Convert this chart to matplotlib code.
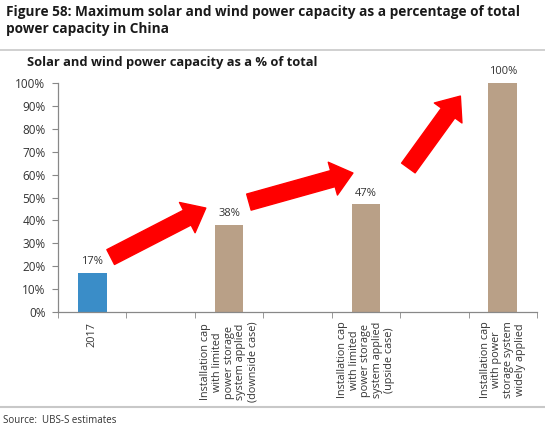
import matplotlib
matplotlib.use("Agg")
import matplotlib.pyplot as plt
from matplotlib.lines import Line2D

plt.rcParams['font.family'] = ['Open Sans', 'DejaVu Sans']

categories = [
    "2017",
    "",
    "Installation cap\nwith limited\npower storage\nsystem applied\n(downside case)",
    "",
    "Installation cap\nwith limited\npower storage\nsystem applied\n(upside case)",
    "",
    "Installation cap\nwith power\nstorage system\nwidely applied",
]
values = [17, None, 38, None, 47, None, 100]
bar_colors = ["#3A8DC8", None, "#B9A087", None, "#B9A087", None, "#B9A087"]

# arrows: (tail x, tail y, tip x, tip y) in data units
arrows = [
    (0.27, 24.0, 1.66, 45.4),
    (2.29, 48.0, 3.81, 60.7),
    (4.62, 62.9, 5.38, 94.3),
]

text_col = "#333333"

fig = plt.figure(figsize=(5.45, 4.28), dpi=100)
ax = fig.add_axes([58 / 545, 0.271, 479 / 545, 0.535])

for i, v in enumerate(values):
    if v is None:
        continue
    ax.bar(i, v, width=0.42, color=bar_colors[i])
    ax.text(i, v + 2.5, f"{v}%", ha="center", va="bottom", fontsize=8, color=text_col)

for tx, ty, hx, hy in arrows:
    ax.annotate("", xy=(hx, hy), xytext=(tx, ty),
                arrowprops=dict(arrowstyle="simple,head_width=2.45,head_length=1.5,tail_width=1.2",
                                fc="#FF0000", ec="#FF0000", shrinkA=0, shrinkB=0,
                                mutation_scale=10))

ax.set_xlim(-0.5, len(categories) - 0.5)
ax.set_ylim(0, 100)
ax.set_yticks(range(0, 101, 10))
ax.set_yticklabels([f"{t}%" for t in range(0, 101, 10)], fontsize=8.5, color=text_col)
ax.set_xticks(range(len(categories)))
ax.set_xticklabels(categories, rotation=90, fontsize=7.8, color=text_col,
                   ha="center", va="top", multialignment="center", linespacing=1.1)
ax.set_xticks([i - 0.5 for i in range(len(categories) + 1)], minor=True)
ax.tick_params(axis="x", which="major", length=0, pad=7)
ax.tick_params(axis="x", which="minor", length=4, color="#888888")
ax.tick_params(axis="y", length=4, color="#888888", pad=5)

for s in ["top", "right"]:
    ax.spines[s].set_visible(False)
for s in ["left", "bottom"]:
    ax.spines[s].set_color("#888888")
    ax.spines[s].set_linewidth(0.9)

fig.text(0.011, 0.988, "Figure 58: Maximum solar and wind power capacity as a percentage of total\npower capacity in China",
         fontsize=9.8, fontweight="bold", ha="left", va="top", color="#1a1a1a", linespacing=1.3)
fig.text(0.050, 0.855, "Solar and wind power capacity as a % of total",
         fontsize=9.3, fontweight="bold", ha="left", va="center", color="#1a1a1a")
fig.text(0.006, 0.018, "Source:  UBS-S estimates", fontsize=7, ha="left", va="center", color=text_col)

fig.add_artist(Line2D([0, 1], [1 - 50 / 428] * 2, color="#C8C8C8", lw=1.2))
fig.add_artist(Line2D([0, 1], [1 - 407 / 428] * 2, color="#C8C8C8", lw=1.5))

fig.savefig("out.png", dpi=100)
